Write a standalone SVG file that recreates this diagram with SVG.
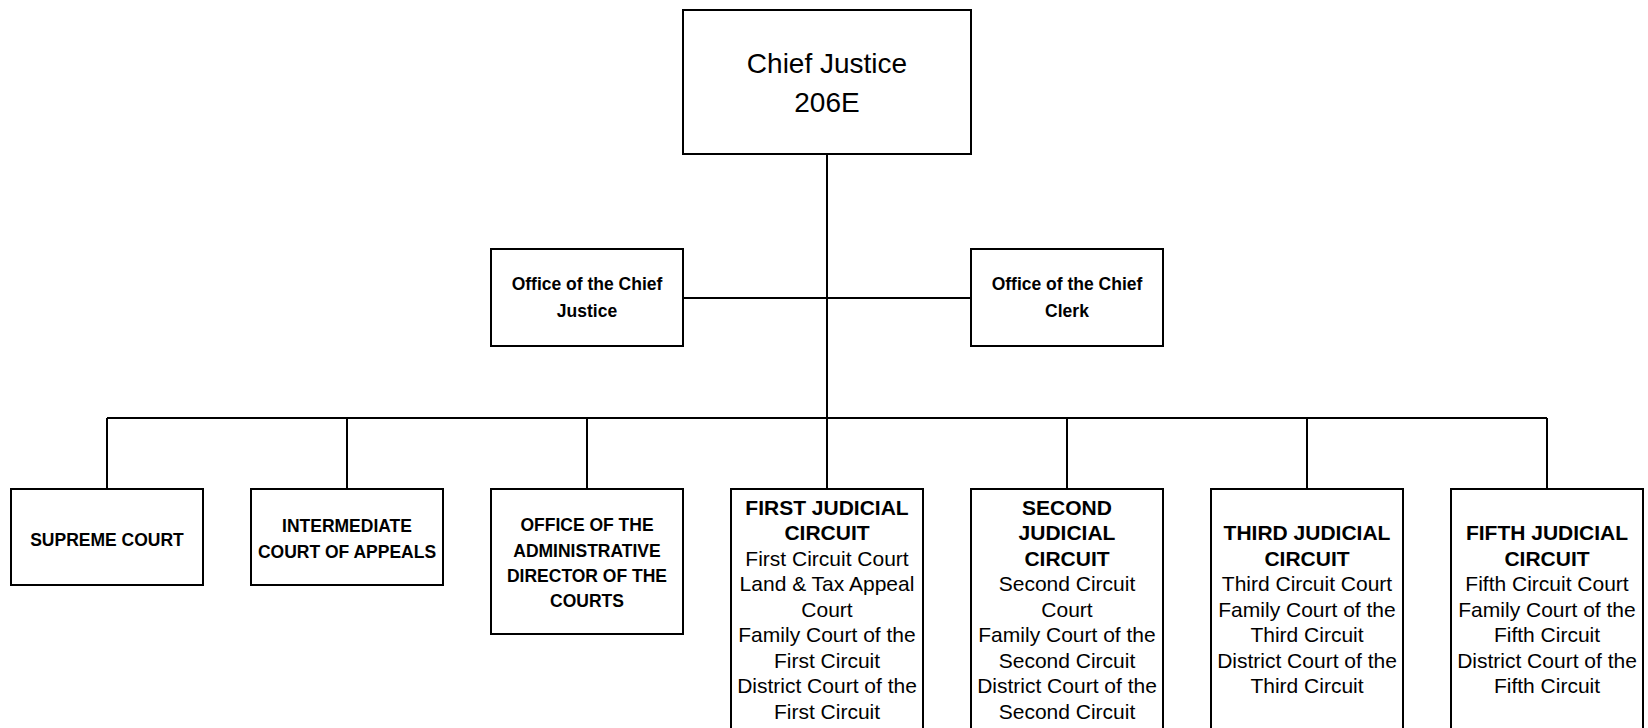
<svg xmlns="http://www.w3.org/2000/svg" width="1648" height="728" viewBox="0 0 1648 728">
<style>
.box{fill:#fff;stroke:#000;stroke-width:2}
.ln{fill:none;stroke:#000;stroke-width:2}
text{font-family:"Liberation Sans",Arial,sans-serif;fill:#000;text-anchor:middle}
.big{font-size:28px}
.hb{font-size:17.5px;font-weight:bold}
.cb{font-size:21px;font-weight:bold}
.cr{font-size:21px}
</style>
<rect width="1648" height="728" fill="#fff"/>
<g id="connectors">
<line class="ln" x1="827" y1="154" x2="827" y2="489"/>
<line class="ln" x1="683" y1="298" x2="971" y2="298"/>
<line class="ln" x1="107" y1="418" x2="1547" y2="418"/>
<line class="ln" x1="107" y1="418" x2="107" y2="489"/>
<line class="ln" x1="347" y1="418" x2="347" y2="489"/>
<line class="ln" x1="587" y1="418" x2="587" y2="489"/>
<line class="ln" x1="1067" y1="418" x2="1067" y2="489"/>
<line class="ln" x1="1307" y1="418" x2="1307" y2="489"/>
<line class="ln" x1="1547" y1="418" x2="1547" y2="489"/>
</g>
<g id="chief-justice">
<rect class="box" x="683" y="10" width="288" height="144"/>
<text class="big" x="827" y="73">Chief Justice</text>
<text class="big" x="827" y="112">206E</text>
</g>
<g id="office-chief-justice">
<rect class="box" x="491" y="249" width="192" height="97"/>
<text class="hb" x="587" y="290">Office of the Chief</text>
<text class="hb" x="587" y="317">Justice</text>
</g>
<g id="office-chief-clerk">
<rect class="box" x="971" y="249" width="192" height="97"/>
<text class="hb" x="1067" y="290">Office of the Chief</text>
<text class="hb" x="1067" y="317">Clerk</text>
</g>
<g id="supreme-court">
<rect class="box" x="11" y="489" width="192" height="96"/>
<text class="hb" x="107" y="546">SUPREME COURT</text>
</g>
<g id="intermediate-court">
<rect class="box" x="251" y="489" width="192" height="96"/>
<text class="hb" x="347" y="532">INTERMEDIATE</text>
<text class="hb" x="347" y="558">COURT OF APPEALS</text>
</g>
<g id="admin-director">
<rect class="box" x="491" y="489" width="192" height="145"/>
<text class="hb" x="587" y="531">OFFICE OF THE</text>
<text class="hb" x="587" y="557">ADMINISTRATIVE</text>
<text class="hb" x="587" y="582">DIRECTOR OF THE</text>
<text class="hb" x="587" y="607">COURTS</text>
</g>
<g id="first-circuit">
<rect class="box" x="731" y="489" width="192" height="260"/>
<text class="cb" x="827" y="515">FIRST JUDICIAL</text>
<text class="cb" x="827" y="540">CIRCUIT</text>
<text class="cr" x="827" y="566">First Circuit Court</text>
<text class="cr" x="827" y="591">Land &amp; Tax Appeal</text>
<text class="cr" x="827" y="617">Court</text>
<text class="cr" x="827" y="642">Family Court of the</text>
<text class="cr" x="827" y="668">First Circuit</text>
<text class="cr" x="827" y="693">District Court of the</text>
<text class="cr" x="827" y="719">First Circuit</text>
</g>
<g id="second-circuit">
<rect class="box" x="971" y="489" width="192" height="260"/>
<text class="cb" x="1067" y="515">SECOND</text>
<text class="cb" x="1067" y="540">JUDICIAL</text>
<text class="cb" x="1067" y="566">CIRCUIT</text>
<text class="cr" x="1067" y="591">Second Circuit</text>
<text class="cr" x="1067" y="617">Court</text>
<text class="cr" x="1067" y="642">Family Court of the</text>
<text class="cr" x="1067" y="668">Second Circuit</text>
<text class="cr" x="1067" y="693">District Court of the</text>
<text class="cr" x="1067" y="719">Second Circuit</text>
</g>
<g id="third-circuit">
<rect class="box" x="1211" y="489" width="192" height="260"/>
<text class="cb" x="1307" y="540">THIRD JUDICIAL</text>
<text class="cb" x="1307" y="566">CIRCUIT</text>
<text class="cr" x="1307" y="591">Third Circuit Court</text>
<text class="cr" x="1307" y="617">Family Court of the</text>
<text class="cr" x="1307" y="642">Third Circuit</text>
<text class="cr" x="1307" y="668">District Court of the</text>
<text class="cr" x="1307" y="693">Third Circuit</text>
</g>
<g id="fifth-circuit">
<rect class="box" x="1451" y="489" width="192" height="260"/>
<text class="cb" x="1547" y="540">FIFTH JUDICIAL</text>
<text class="cb" x="1547" y="566">CIRCUIT</text>
<text class="cr" x="1547" y="591">Fifth Circuit Court</text>
<text class="cr" x="1547" y="617">Family Court of the</text>
<text class="cr" x="1547" y="642">Fifth Circuit</text>
<text class="cr" x="1547" y="668">District Court of the</text>
<text class="cr" x="1547" y="693">Fifth Circuit</text>
</g>
</svg>
